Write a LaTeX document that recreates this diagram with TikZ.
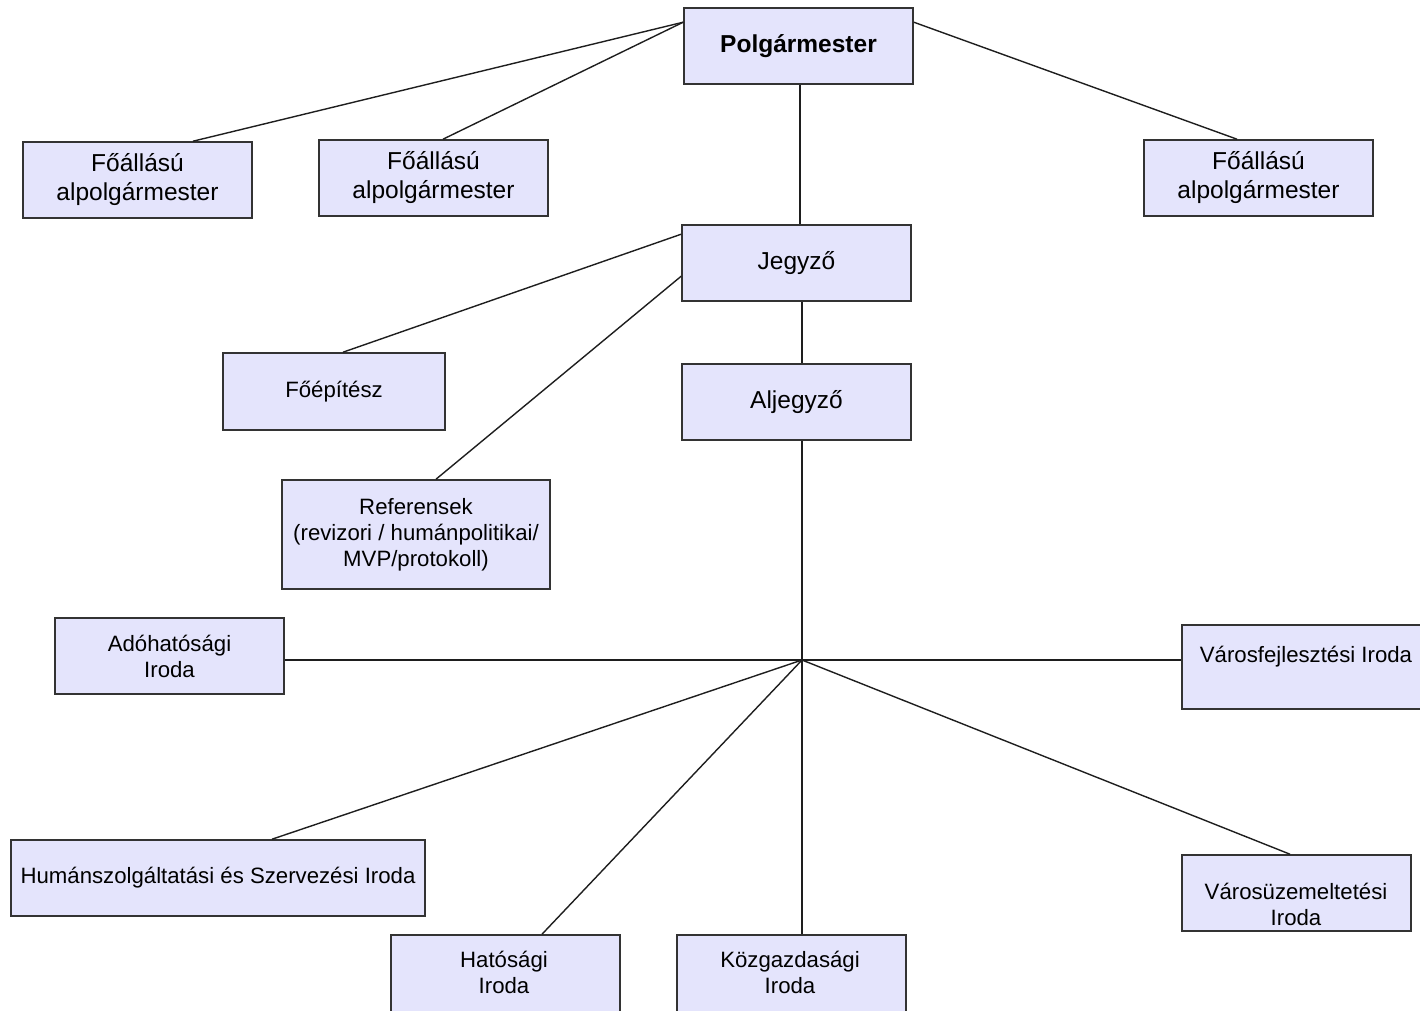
\documentclass[tikz,border=0pt]{standalone}
\usepackage{fontspec}
\setmainfont{Liberation Sans}
\definecolor{boxc}{RGB}{228,228,252}
\definecolor{bordc}{RGB}{51,51,51}
\definecolor{linec}{RGB}{30,30,30}
\newcommand{\bigf}{\fontsize{24.5}{29}\selectfont}
\newcommand{\smf}{\fontsize{22.2}{26}\selectfont}
\begin{document}
\begin{tikzpicture}[x=1pt,y=-1pt,
  box/.style={draw=bordc, fill=boxc, line width=1.6pt, inner sep=0pt, align=center, font=\smf},
  bigbox/.style={box, font=\bigf},
  txt/.style={inner sep=0pt, align=center, font=\smf, text=black},
  conn/.style={draw=linec, line width=1.4pt}]
\useasboundingbox (0,0) rectangle (1420,1010);
% boxes
\node[bigbox, minimum width=229pt, minimum height=76pt, font=\bigf\bfseries] (pm) at (798.5,46) {Polgármester};
\node[bigbox, minimum width=229pt, minimum height=76pt] (f1) at (137.5,180) {Főállású\\alpolgármester};
\node[bigbox, minimum width=229pt, minimum height=76pt] (f2) at (433.5,178) {Főállású\\alpolgármester};
\node[bigbox, minimum width=229pt, minimum height=76pt] (f3) at (1258.5,178) {Főállású\\alpolgármester};
\node[bigbox, minimum width=229pt, minimum height=76pt] (jeg) at (796.5,263) {Jegyző};
\node[bigbox, minimum width=229pt, minimum height=76pt] (alj) at (796.5,402) {Aljegyző};
\node[box, minimum width=222pt, minimum height=77pt] (feo) at (334,391.5) {Főépítész};
\node[box, minimum width=268pt, minimum height=109pt] (ref) at (416,534.5) {Referensek\\(revizori / humánpolitikai/\\MVP/protokoll)};
\node[box, minimum width=229pt, minimum height=76pt] (ado) at (169.5,656) {Adóhatósági\\Iroda};
\node[box, minimum width=258pt, minimum height=84pt] (vf) at (1311,667) {};
\node[txt] (vft) at (1306,657) {Városfejlesztési Iroda};
\node[box, minimum width=414pt, minimum height=76pt] (hum) at (218,878) {Humánszolgáltatási és Szervezési Iroda};
\node[box, minimum width=229pt, minimum height=110pt] (hat) at (505.5,990) {};
\node[txt] (hatt) at (504,972) {Hatósági\\Iroda};
\node[box, minimum width=229pt, minimum height=110pt] (koz) at (791.5,990) {};
\node[txt] (kozt) at (790,972) {Közgazdasági\\Iroda};
\node[box, minimum width=229pt, minimum height=76pt] (vu) at (1296.5,893) {};
\node[txt] (vut) at (1296,904.5) {Városüzemeltetési\\Iroda};
\coordinate (hub) at (802,660);
% connectors
\draw[conn] ([yshift=-15pt]pm.north west) -- ([xshift=55.5pt]f1.north);
\draw[conn] ([yshift=-15pt]pm.north west) -- ([xshift=9.5pt]f2.north);
\draw[conn] ([yshift=-15pt]pm.north east) -- ([xshift=-21.5pt]f3.north);
\draw[conn] ([xshift=1.5pt]pm.south) -- ([xshift=3.5pt]jeg.north);
\draw[conn] ([yshift=-10pt]jeg.north west) -- ([xshift=9pt]feo.north);
\draw[conn] ([yshift=-52pt]jeg.north west) -- ([xshift=20pt]ref.north);
\draw[conn] (hub |- jeg.south) -- (hub |- alj.north);
\draw[conn] (hub |- alj.south) -- (hub);
\draw[conn] (hub) -- (hub -| ado.east);
\draw[conn] (hub) -- (hub -| vf.west);
\draw[conn] (hub) -- ([xshift=54pt]hum.north);
\draw[conn] (hub) -- ([xshift=36.5pt]hat.north);
\draw[conn] (hub) -- (hub |- koz.north);
\draw[conn] (hub) -- ([xshift=-6.5pt]vu.north);
\end{tikzpicture}
\end{document}
